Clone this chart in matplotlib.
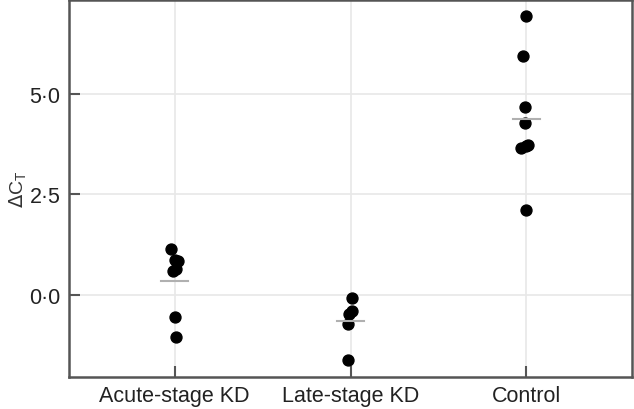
import numpy as np
import matplotlib
matplotlib.use("Agg")
import matplotlib.pyplot as plt

plt.rcParams['font.family'] = ['Liberation Sans', 'DejaVu Sans']

groups = ['Acute-stage KD', 'Late-stage KD', 'Control']
acute = [1.14, 0.86, 0.84, 0.60, 0.65, -0.55, -1.04]
late = [-0.06, -0.39, -0.47, -0.72, -1.60]
control = [6.92, 5.92, 4.66, 4.28, 3.66, 3.70, 3.72, 2.12]
# small horizontal jitter
acute_dx = [-0.02, 0.0, 0.02, -0.01, 0.01, 0.0, 0.01]
late_dx = [0.01, 0.01, -0.01, -0.015, -0.015]
control_dx = [0.0, -0.02, -0.01, -0.01, -0.03, 0.0, 0.01, 0.0]

ytick_vals = [0.0, 2.5, 5.0]
ytick_labels = ['0\u00b70', '2\u00b75', '5\u00b70']

fig = plt.figure(figsize=(6.34, 4.10), dpi=100)
ax = fig.add_axes([69 / 634, 32 / 410, 563 / 634, 377 / 410])

spine_col = '#555555'
for s in ax.spines.values():
    s.set_color(spine_col)
    s.set_linewidth(1.8)

ax.set_axisbelow(True)
ax.grid(True, color='#e8e8e8', linewidth=1.2)

for i, (vals, dx) in enumerate([(acute, acute_dx), (late, late_dx), (control, control_dx)]):
    xs = [i + d for d in dx]
    ax.scatter(xs, vals, s=62, color='black', zorder=3)
    m = np.mean(vals)
    ax.plot([i - 0.075, i + 0.075], [m, m], color='#b0b0b0', linewidth=1.5, zorder=4)

ax.set_xlim(-0.6, 2.6)
ax.set_ylim(-2.03, 7.32)
ax.set_xticks(range(len(groups)))
ax.set_xticklabels(groups)
ax.set_yticks(ytick_vals)
ax.set_yticklabels(ytick_labels)
ax.tick_params(direction='in', length=8, width=1.5, color=spine_col,
               labelsize=15.5, labelcolor='#222222')
ax.tick_params(axis='y', pad=6)
ax.tick_params(axis='x', pad=6)
ax.set_ylabel('$\\Delta$C$_\\mathregular{T}$', fontsize=14, color='#333333', labelpad=0)

fig.savefig('out.png', dpi=100)
